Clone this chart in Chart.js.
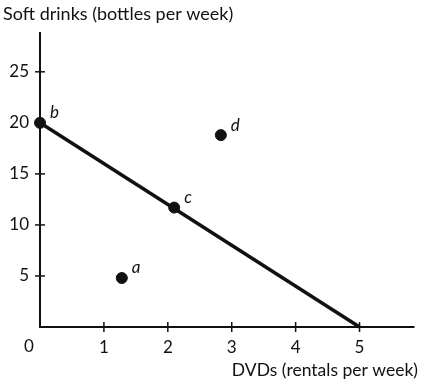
<!DOCTYPE html>
<html>
<head>
<meta charset="utf-8">
<script src="https://cdn.jsdelivr.net/npm/chart.js@4"></script>
<style>
  html, body { margin: 0; padding: 0; background: #fff; }
  #wrap { width: 421px; height: 386px; }
</style>
</head>
<body>
<div id="wrap"><canvas id="chart" width="421" height="386"></canvas></div>
<script>
// data
var lineX = [0, 5];
var lineY = [20, 0];
var pointLabels = ['b', 'c', 'a', 'd'];
var pointX = [0, 2.1, 1.28, 2.83];
var pointY = [20, 11.7, 4.8, 18.8];
var xTicks = [1, 2, 3, 4, 5];
var yTicks = [5, 10, 15, 20, 25];
var yTitle = 'Soft drinks (bottles per week)';
var xTitle = 'DVDs (rentals per week)';

var FONT = 'Lato, "Open Sans", sans-serif';
var INK = '#111';

var linePts = [];
for (var i = 0; i < lineX.length; i++) {
    linePts.push({x: lineX[i], y: lineY[i]});
}
var dots = [];
for (var j = 0; j < pointX.length; j++) {
    dots.push({x: pointX[j], y: pointY[j]});
}

var axesPlugin = {
    id: 'axesPlugin',
    afterDatasetsDraw: function(chart) {
        var ctx = chart.ctx;
        var xs = chart.scales.x, ys = chart.scales.y;
        var x0 = xs.getPixelForValue(0), y0 = ys.getPixelForValue(0);
        var area = chart.chartArea;
        ctx.save();
        ctx.strokeStyle = INK;
        ctx.lineWidth = 2;
        ctx.beginPath();
        ctx.moveTo(x0, area.top);
        ctx.lineTo(x0, y0);
        ctx.lineTo(area.right, y0);
        ctx.stroke();

        ctx.lineWidth = 1.5;
        ctx.fillStyle = INK;
        ctx.font = '17px ' + FONT;
        ctx.textBaseline = 'middle';
        // x ticks
        ctx.textAlign = 'center';
        xTicks.forEach(function(v) {
            var px = xs.getPixelForValue(v);
            ctx.beginPath();
            ctx.moveTo(px, y0 - 5);
            ctx.lineTo(px, y0 + 5);
            ctx.stroke();
            ctx.fillText(String(v), px, y0 + 21);
        });
        // y ticks
        ctx.textAlign = 'right';
        yTicks.forEach(function(v) {
            var py = ys.getPixelForValue(v);
            ctx.beginPath();
            ctx.moveTo(x0 - 5, py);
            ctx.lineTo(x0 + 5, py);
            ctx.stroke();
            ctx.fillText(String(v), x0 - 11, py);
        });
        ctx.textAlign = 'center';
        ctx.fillText('0', x0 - 11, y0 + 20);

        // axis titles
        ctx.font = '18px ' + FONT;
        ctx.textAlign = 'left';
        ctx.fillText(yTitle, 3, 14);
        ctx.font = '17.5px ' + FONT;
        ctx.textAlign = 'right';
        ctx.fillText(xTitle, 418, 370);

        // point letters
        ctx.font = 'italic 17px ' + FONT;
        ctx.textAlign = 'left';
        for (var k = 0; k < pointLabels.length; k++) {
            var px2 = xs.getPixelForValue(pointX[k]);
            var py2 = ys.getPixelForValue(pointY[k]);
            ctx.fillText(pointLabels[k], px2 + 10, py2 - 10);
        }
        ctx.restore();
    }
};

var chart = new Chart(document.getElementById('chart').getContext('2d'), {
    type: 'scatter',
    data: {
        datasets: [{
            label: 'line',
            data: linePts,
            showLine: true,
            borderColor: INK,
            borderWidth: 3.5,
            pointRadius: 0,
            clip: false
        }, {
            label: 'points',
            data: dots,
            backgroundColor: INK,
            borderColor: INK,
            pointRadius: 5.5,
            clip: false
        }]
    },
    options: {
        responsive: false,
        animation: false,
        events: [],
        layout: {
            padding: {left: 40, right: 6, top: 32, bottom: 59}
        },
        plugins: {
            legend: {display: false},
            tooltip: {enabled: false}
        },
        scales: {
            x: {type: 'linear', display: false, min: 0, max: 5.86},
            y: {type: 'linear', display: false, min: 0, max: 28.9}
        }
    },
    plugins: [axesPlugin]
});
</script>
</body>
</html>
